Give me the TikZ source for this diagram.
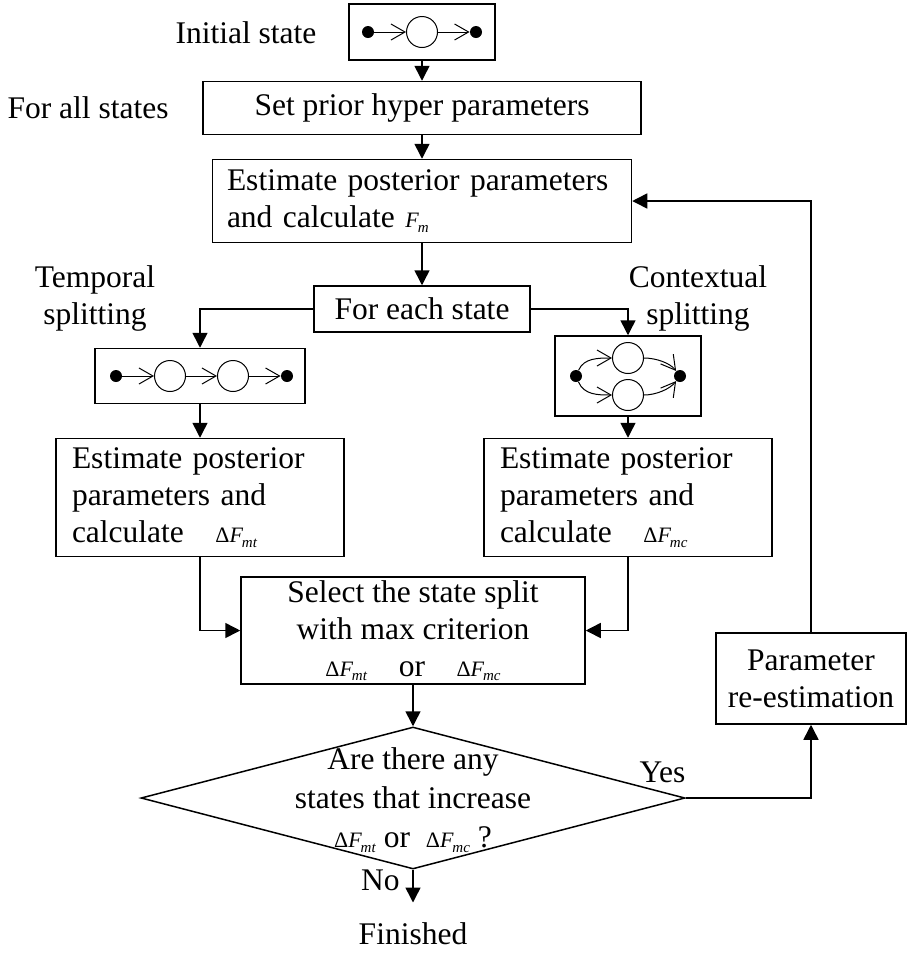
\documentclass[tikz,border=0pt]{standalone}
\usepackage{fontspec}
\setmainfont{Liberation Serif}
\usetikzlibrary{arrows.meta,shapes.geometric,positioning}

\newcommand{\txt}{\fontsize{15.75pt}{18.5pt}\selectfont}
\newcommand{\Fsub}[1]{\textit{F}\kern-0.6pt\raisebox{-0.45ex}{\fontsize{7.5pt}{8pt}\selectfont\textit{#1}}}
\newcommand{\dF}[1]{{\fontsize{11pt}{12pt}\selectfont Δ\Fsub{#1}}}
\newcommand{\Fm}{{\fontsize{11pt}{12pt}\selectfont\Fsub{m}}}

\begin{document}
\begin{tikzpicture}[x=0.5pt, y=-0.5pt,
    box/.style={draw, line width=0.75pt, font=\txt, align=center, inner sep=0pt},
    arrow/.style={-{Triangle[length=7.5pt, width=7.5pt]}, line width=0.75pt},
    label/.style={font=\txt, align=center},
    state/.style={draw, circle, line width=0.5pt, minimum size=15.5pt, inner sep=0pt},
    dot/.style={circle, fill, minimum size=6pt, inner sep=0pt},
    barb/.style={-{Straight Barb[length=7pt, width=8pt]}, line width=0.5pt},
]
\useasboundingbox (0,0) rectangle (907,955);

% Initial model
\node[label] (initlab) at (246,33) {Initial state};
\node[box, minimum width=73pt, minimum height=28pt] (init) at (422,32) {};
\node[dot] (i0) at (368,32) {};
\node[state] (i1) at (422,32) {};
\node[dot] (i2) at (476,32) {};
\draw[barb] (i0) -- (i1);
\draw[barb] (i1) -- (i2);

% Main column
\node[label] (forall) at (88,108) {For all states};
\node[box, minimum width=219pt, minimum height=26.5pt] (setp) at (422,108) {Set prior hyper parameters};
\node[box, minimum width=209.5pt, minimum height=41.5pt, text width=195pt, align=left] (estm) at (422,201)
    {Estimate posterior parameters\\and calculate \Fm\\[-5pt]};
\node[box, minimum width=108pt, minimum height=23pt] (foreach) at (422,309) {For each state};

\draw[arrow] (init) -- (setp);
\draw[arrow] (setp) -- (estm);
\draw[arrow] (estm) -- (foreach);

% Temporal splitting
\node[label] (tlab) at (95,298) {Temporal\\splitting};
\node[box, minimum width=105pt, minimum height=27.5pt] (tbox) at (200,376) {};
\node[dot] (t0) at (116,376) {};
\node[state] (t1) at (170,376) {};
\node[state] (t2) at (233,376) {};
\node[dot] (t3) at (287,376) {};
\draw[barb] (t0) -- (t1);
\draw[barb] (t1) -- (t2);
\draw[barb] (t2) -- (t3);
\node[box, minimum width=144pt, minimum height=59pt, text width=128pt, align=left] (estt) at (200,497.5)
    {Estimate posterior\\parameters and\\calculate\quad\dF{mt}};

% Contextual splitting
\node[label] (clab) at (698,298) {Contextual\\splitting};
\node[box, minimum width=73pt, minimum height=40pt] (cbox) at (628,376) {};
\node[dot] (c0) at (576,376) {};
\node[state] (c1) at (628,358) {};
\node[state] (c2) at (628,395) {};
\node[dot] (c3) at (680,376) {};
\draw[barb] (c0) .. controls (584,358) and (598,358) .. (c1);
\draw[barb] (c0) .. controls (584,395) and (598,395) .. (c2);
\draw[barb] (c1) .. controls (656,358) and (670,363) .. (c3);
\draw[barb] (c2) .. controls (656,395) and (670,389) .. (c3);
\node[box, minimum width=144pt, minimum height=59pt, text width=128pt, align=left] (estc) at (628,497.5)
    {Estimate posterior\\parameters and\\calculate\quad\dF{mc}};

\draw[arrow] (foreach.west) -| (tbox.north);
\draw[arrow] (foreach.east) -| (cbox.north);
\draw[arrow] (tbox) -- (estt);
\draw[arrow] (cbox) -- (estc);

% Selection and decision
\node[box, minimum width=172pt, minimum height=53.5pt] (select) at (413,630.5)
    {Select the state split\\with max criterion\\\dF{mt}\quad or\quad\dF{mc}};
\draw[arrow] (estt.south) |- (select.west);
\draw[arrow] (estc.south) |- (select.east);

\node[draw, diamond, line width=0.75pt, minimum width=272pt, minimum height=71pt, inner sep=0pt] (dec) at (413,798) {};
\node[label, font=\fontsize{15.75pt}{19.5pt}\selectfont] (dectxt) at (413,800)
    {Are there any\\states that increase\\\dF{mt} or \ \dF{mc} ?};
\draw[arrow] (select) -- (dec.north);

\node[box, minimum width=95pt, minimum height=45.5pt] (param) at (811,678.5) {Parameter\\re-estimation};
\draw[arrow] (dec.east) -| (param.south);
\draw[arrow] (param.north) |- (estm.east);
\node[label, anchor=south east, inner sep=0pt] (yes) at ([yshift=7.5pt]dec.east) {Yes};

\node[label, anchor=base east, inner sep=0pt] (no) at ([xshift=-6.5pt, yshift=-10.5pt]dec.south) {No};
\node[label, anchor=base, inner sep=0pt] (fin) at ([yshift=-37.5pt]dec.south) {Finished};
\draw[arrow, shorten >=10pt] (dec.south) -- (fin.north);
\end{tikzpicture}
\end{document}
